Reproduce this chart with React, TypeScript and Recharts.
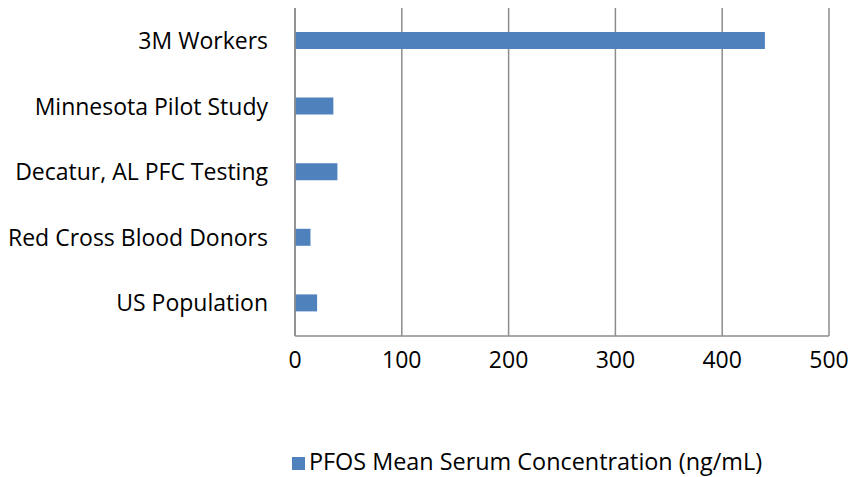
import React from 'react';
import { BarChart, Bar, XAxis, YAxis, CartesianGrid, Legend } from 'recharts';

const categories = [
  '3M Workers',
  'Minnesota Pilot Study',
  'Decatur, AL PFC Testing',
  'Red Cross Blood Donors',
  'US Population',
];
const pfosValues = [440, 35.9, 39.7, 14.5, 20.7];
const xTicks = [0, 100, 200, 300, 400, 500];
const seriesName = 'PFOS Mean Serum Concentration (ng/mL)';

const data = categories.map((name, i) => ({ name, pfos: pfosValues[i] }));

const font = '"Open Sans", "Liberation Sans", sans-serif';

export default function App() {
  return (
    <div style={{ position: 'absolute', left: 0, top: 0, background: '#fff' }}>
      <BarChart
        width={854}
        height={477}
        data={data}
        layout="vertical"
        margin={{ top: 8, right: 25, bottom: 59, left: 0 }}
        barSize={17}
      >
        <CartesianGrid horizontal={false} stroke="#8c8c8c" strokeWidth={1.5} />
        <XAxis
          type="number"
          domain={[0, 500]}
          ticks={xTicks}
          tickLine={false}
          axisLine={{ stroke: '#8c8c8c', strokeWidth: 1.5 }}
          tick={{ fill: '#000', fontSize: 23, fontFamily: font }}
          tickMargin={10}
          height={50}
          interval={0}
        />
        <YAxis
          type="category"
          dataKey="name"
          width={295}
          tickLine={false}
          axisLine={{ stroke: '#8c8c8c', strokeWidth: 1.5 }}
          tick={{ fill: '#000', fontSize: 23, fontFamily: font }}
          tickMargin={21}
          interval={0}
        />
        <Legend
          iconType="square"
          iconSize={13}
          wrapperStyle={{ position: 'absolute', top: 445, left: 105, width: 854, fontFamily: font, fontSize: 23.4 }}
          formatter={(v) => <span style={{ color: '#000' }}>{v}</span>}
        />
        <Bar dataKey="pfos" name={seriesName} fill="#4f81bd" isAnimationActive={false} />
      </BarChart>
    </div>
  );
}
